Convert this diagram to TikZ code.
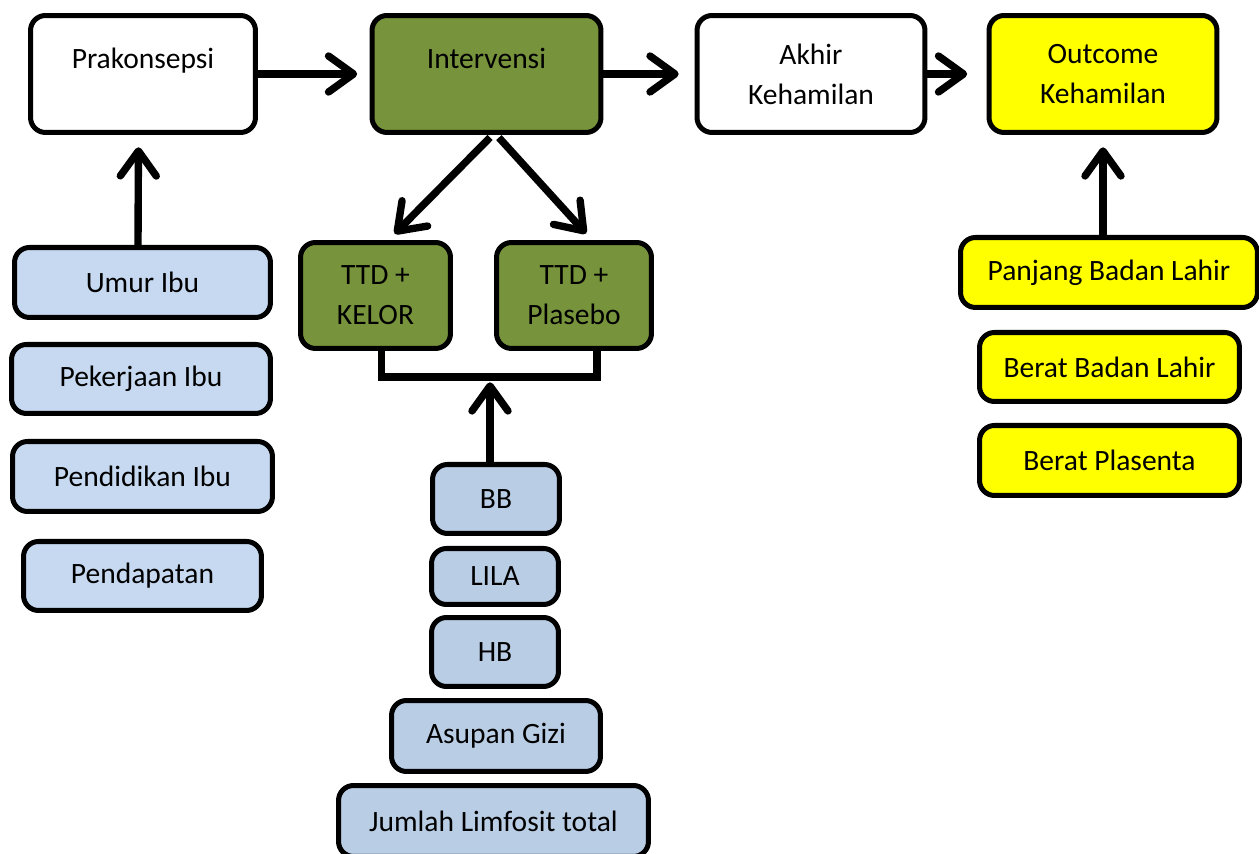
\documentclass[tikz,border=0pt]{standalone}
\usepackage{fontspec}
\setmainfont{Carlito}
\usetikzlibrary{arrows.meta,positioning,calc}
\definecolor{greenfill}{HTML}{77933C}
\definecolor{bluefill}{HTML}{C6D9F1}
\definecolor{bluedark}{HTML}{B9CDE5}
\definecolor{yellowfill}{HTML}{FFFF00}
\begin{document}
\begin{tikzpicture}[x=0.02cm, y=-0.02cm,
                    every box/.style = {font=\fontsize{16.8}{22.8}\selectfont},
                    box/.style = {rectangle, rounded corners=0.3cm, draw=black, line width=2.85pt, align=center, every box},
                    whitebox/.style = {fill=white, box},
                    greenbox/.style = {fill=greenfill, box},
                    bluebox/.style = {fill=bluefill, box},
                    bluebox2/.style = {fill=bluedark, box},
                    yellowbox/.style = {fill=yellowfill, box},
                    toptext/.style = {text height=0.8em, text depth=0.8em+0.2cm},
                    flow/.style = {line width=4.2pt, -{Straight Barb[length=0.5cm, width=0.72cm, round]}},
                    bracket/.style = {line width=4.2pt} ]

                \useasboundingbox (0,0) rectangle (1259,854);

                % top row
                \node [whitebox, toptext, minimum width=4.5cm, minimum height=2.34cm] (prakonsepsi) at (143,74) {Prakonsepsi};
                \node [greenbox, toptext, minimum width=4.58cm, minimum height=2.34cm] (intervensi) at (486.5,74) {Intervensi};
                \node [whitebox, minimum width=4.56cm, minimum height=2.34cm] (akhir) at (811,74) {Akhir\\Kehamilan};
                \node [yellowbox, minimum width=4.56cm, minimum height=2.34cm] (outcome) at (1103,74) {Outcome\\Kehamilan};
                \draw [flow, shorten >=7] (prakonsepsi) -- (intervensi);
                \draw [flow, shorten >=9] (intervensi) -- (akhir);
                \draw [flow, shorten >=11] (akhir) -- (outcome);

                % left column
                \node [bluebox, minimum width=5.12cm, minimum height=1.4cm] (umur) at (142.5,282.5) {Umur Ibu};
                \node [bluebox, minimum width=5.18cm, minimum height=1.38cm] (pekerjaan) at (141,379) {Pekerjaan Ibu};
                \node [bluebox, minimum width=5.2cm, minimum height=1.4cm] (pendidikan) at (142.5,476.5) {Pendidikan Ibu};
                \node [bluebox, minimum width=4.76cm, minimum height=1.38cm] (pendapatan) at (142.5,576) {Pendapatan};
                \draw [flow, shorten >=7] ([xshift=-0.09cm]umur.north) -- ([xshift=-0.09cm]prakonsepsi.south);

                % treatment arms
                \node [greenbox, minimum width=3cm, minimum height=2.12cm] (kelor) at (375.5,295.5) {TTD +\\KELOR};
                \node [greenbox, minimum width=3.1cm, minimum height=2.12cm] (plasebo) at (574,295.5) {TTD +\\Plasebo};
                \draw [flow, shorten <=2, shorten >=5] ($(intervensi.south)+(6,0)$) -- ($(kelor.north)+(13,0)$);
                \draw [flow, shorten <=2, shorten >=5] ($(intervensi.south)+(10,0)$) -- ($(plasebo.north)+(18,0)$);
                \coordinate (join) at (490,377);
                \draw [bracket] ($(kelor.south)+(6,0)$) |- (join) -| ($(plasebo.south)+(23,0)$);

                % middle column
                \node [bluebox2, minimum width=2.54cm, minimum height=1.38cm] (bb) at (496,499) {BB};
                \node [bluebox2, minimum width=2.54cm, minimum height=1.12cm] (lila) at (495,576.5) {LILA};
                \node [bluebox2, minimum width=2.54cm, minimum height=1.38cm] (hb) at (495,652) {HB};
                \node [bluebox2, minimum width=4.18cm, minimum height=1.42cm] (asupan) at (496,736) {Asupan Gizi};
                \node [bluebox2, minimum width=6.2cm, minimum height=1.42cm] (limfosit) at (493.5,821) {Jumlah Limfosit total};
                \draw [flow, shorten >=3] (bb.north -| join) -- (join);

                % right column
                \node [yellowbox, minimum width=5.94cm, minimum height=1.4cm] (panjang) at (1109,272.5) {Panjang Badan Lahir};
                \node [yellowbox, minimum width=5.2cm, minimum height=1.38cm] (beratbadan) at (1109.5,367) {Berat Badan Lahir};
                \node [yellowbox, minimum width=5.2cm, minimum height=1.4cm] (plasenta) at (1109.5,460.5) {Berat Plasenta};
                \draw [flow, shorten >=7] (panjang.north -| outcome) -- (outcome);

\end{tikzpicture}
\end{document}
